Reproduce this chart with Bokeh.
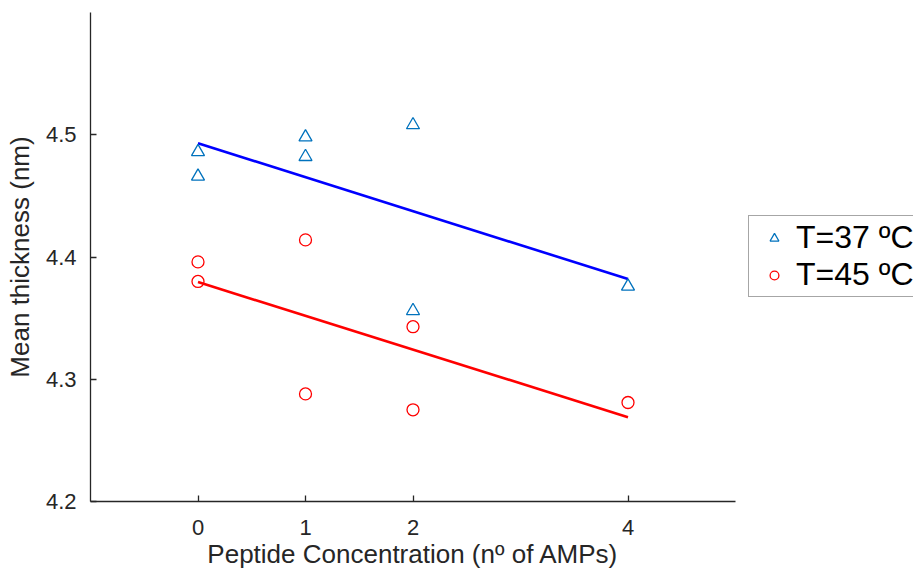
from bokeh.plotting import figure
from bokeh.models import FixedTicker, Legend, LegendItem, Range1d
from bokeh.embed import file_html
from bokeh.resources import INLINE

# Data
x37 = [0, 0, 1, 1, 2, 2, 4]
y37 = [4.486, 4.466, 4.498, 4.482, 4.508, 4.356, 4.376]
x45 = [0, 0, 1, 1, 2, 2, 4]
y45 = [4.396, 4.380, 4.414, 4.288, 4.343, 4.275, 4.281]
fit_x = [0, 4]
fit37 = [4.493, 4.382]
fit45 = [4.3795, 4.269]
x_ticks = [0, 1, 2, 4]
y_ticks = [4.2, 4.3, 4.4, 4.5]
labels = ["T=37 ºC", "T=45 ºC"]

FONT = "Liberation Sans"
DARK = "#262626"

p = figure(width=913, height=571, output_backend="svg", toolbar_location=None,
           x_range=Range1d(-1, 5), y_range=Range1d(4.2, 4.6))
p.frame_width = 645
p.frame_height = 489
p.min_border_left = 90
p.min_border_right = 178
p.min_border_top = 12
p.min_border_bottom = 70
p.outline_line_color = None
p.grid.visible = False
p.background_fill_color = "white"
p.border_fill_color = "white"

p.xaxis.ticker = FixedTicker(ticks=x_ticks)
p.yaxis.ticker = FixedTicker(ticks=y_ticks)
p.xaxis.axis_label = "Peptide Concentration (nº of AMPs)"
p.yaxis.axis_label = "Mean thickness (nm)"
for ax in (p.xaxis, p.yaxis):
    ax.axis_line_color = DARK
    ax.axis_line_width = 1.3
    ax.major_tick_line_color = DARK
    ax.major_tick_line_width = 1.3
    ax.major_tick_in = 6
    ax.major_tick_out = 0
    ax.minor_tick_line_color = None
    ax.major_label_text_font = FONT
    ax.major_label_text_font_size = "22px"
    ax.major_label_text_color = DARK
    ax.axis_label_text_font = FONT
    ax.axis_label_text_font_size = "26px"
    ax.axis_label_text_font_style = "normal"
    ax.axis_label_text_color = DARK
p.xaxis.major_label_standoff = 18
p.xaxis.axis_label_standoff = 1
p.yaxis.major_label_standoff = 14
p.yaxis.axis_label_standoff = 8

l37 = p.line(fit_x, fit37, line_color="#0000ff", line_width=2.6)
l45 = p.line(fit_x, fit45, line_color="#ff0000", line_width=2.6)
s37 = p.scatter(x37, y37, marker="triangle", size=13, fill_color=None,
                line_color="#0072BD", line_width=1.3)
s45 = p.scatter(x45, y45, marker="circle", size=12, fill_color=None,
                line_color="#ff0000", line_width=1.3)

legend = Legend(items=[LegendItem(label=labels[0], renderers=[s37]),
                       LegendItem(label=labels[1], renderers=[s45])],
                location=(13, 204))
legend.label_text_font = FONT
legend.label_text_font_size = "32px"
legend.label_text_color = "black"
legend.border_line_color = "#4d4d4d"
legend.border_line_width = 1
legend.background_fill_alpha = 1
legend.glyph_width = 44
legend.glyph_height = 22
legend.label_height = 33
legend.label_standoff = 0
legend.padding = 3
legend.spacing = 0
legend.margin = 0
p.add_layout(legend, "right")

open("out.html", "w").write(file_html(p, INLINE))
